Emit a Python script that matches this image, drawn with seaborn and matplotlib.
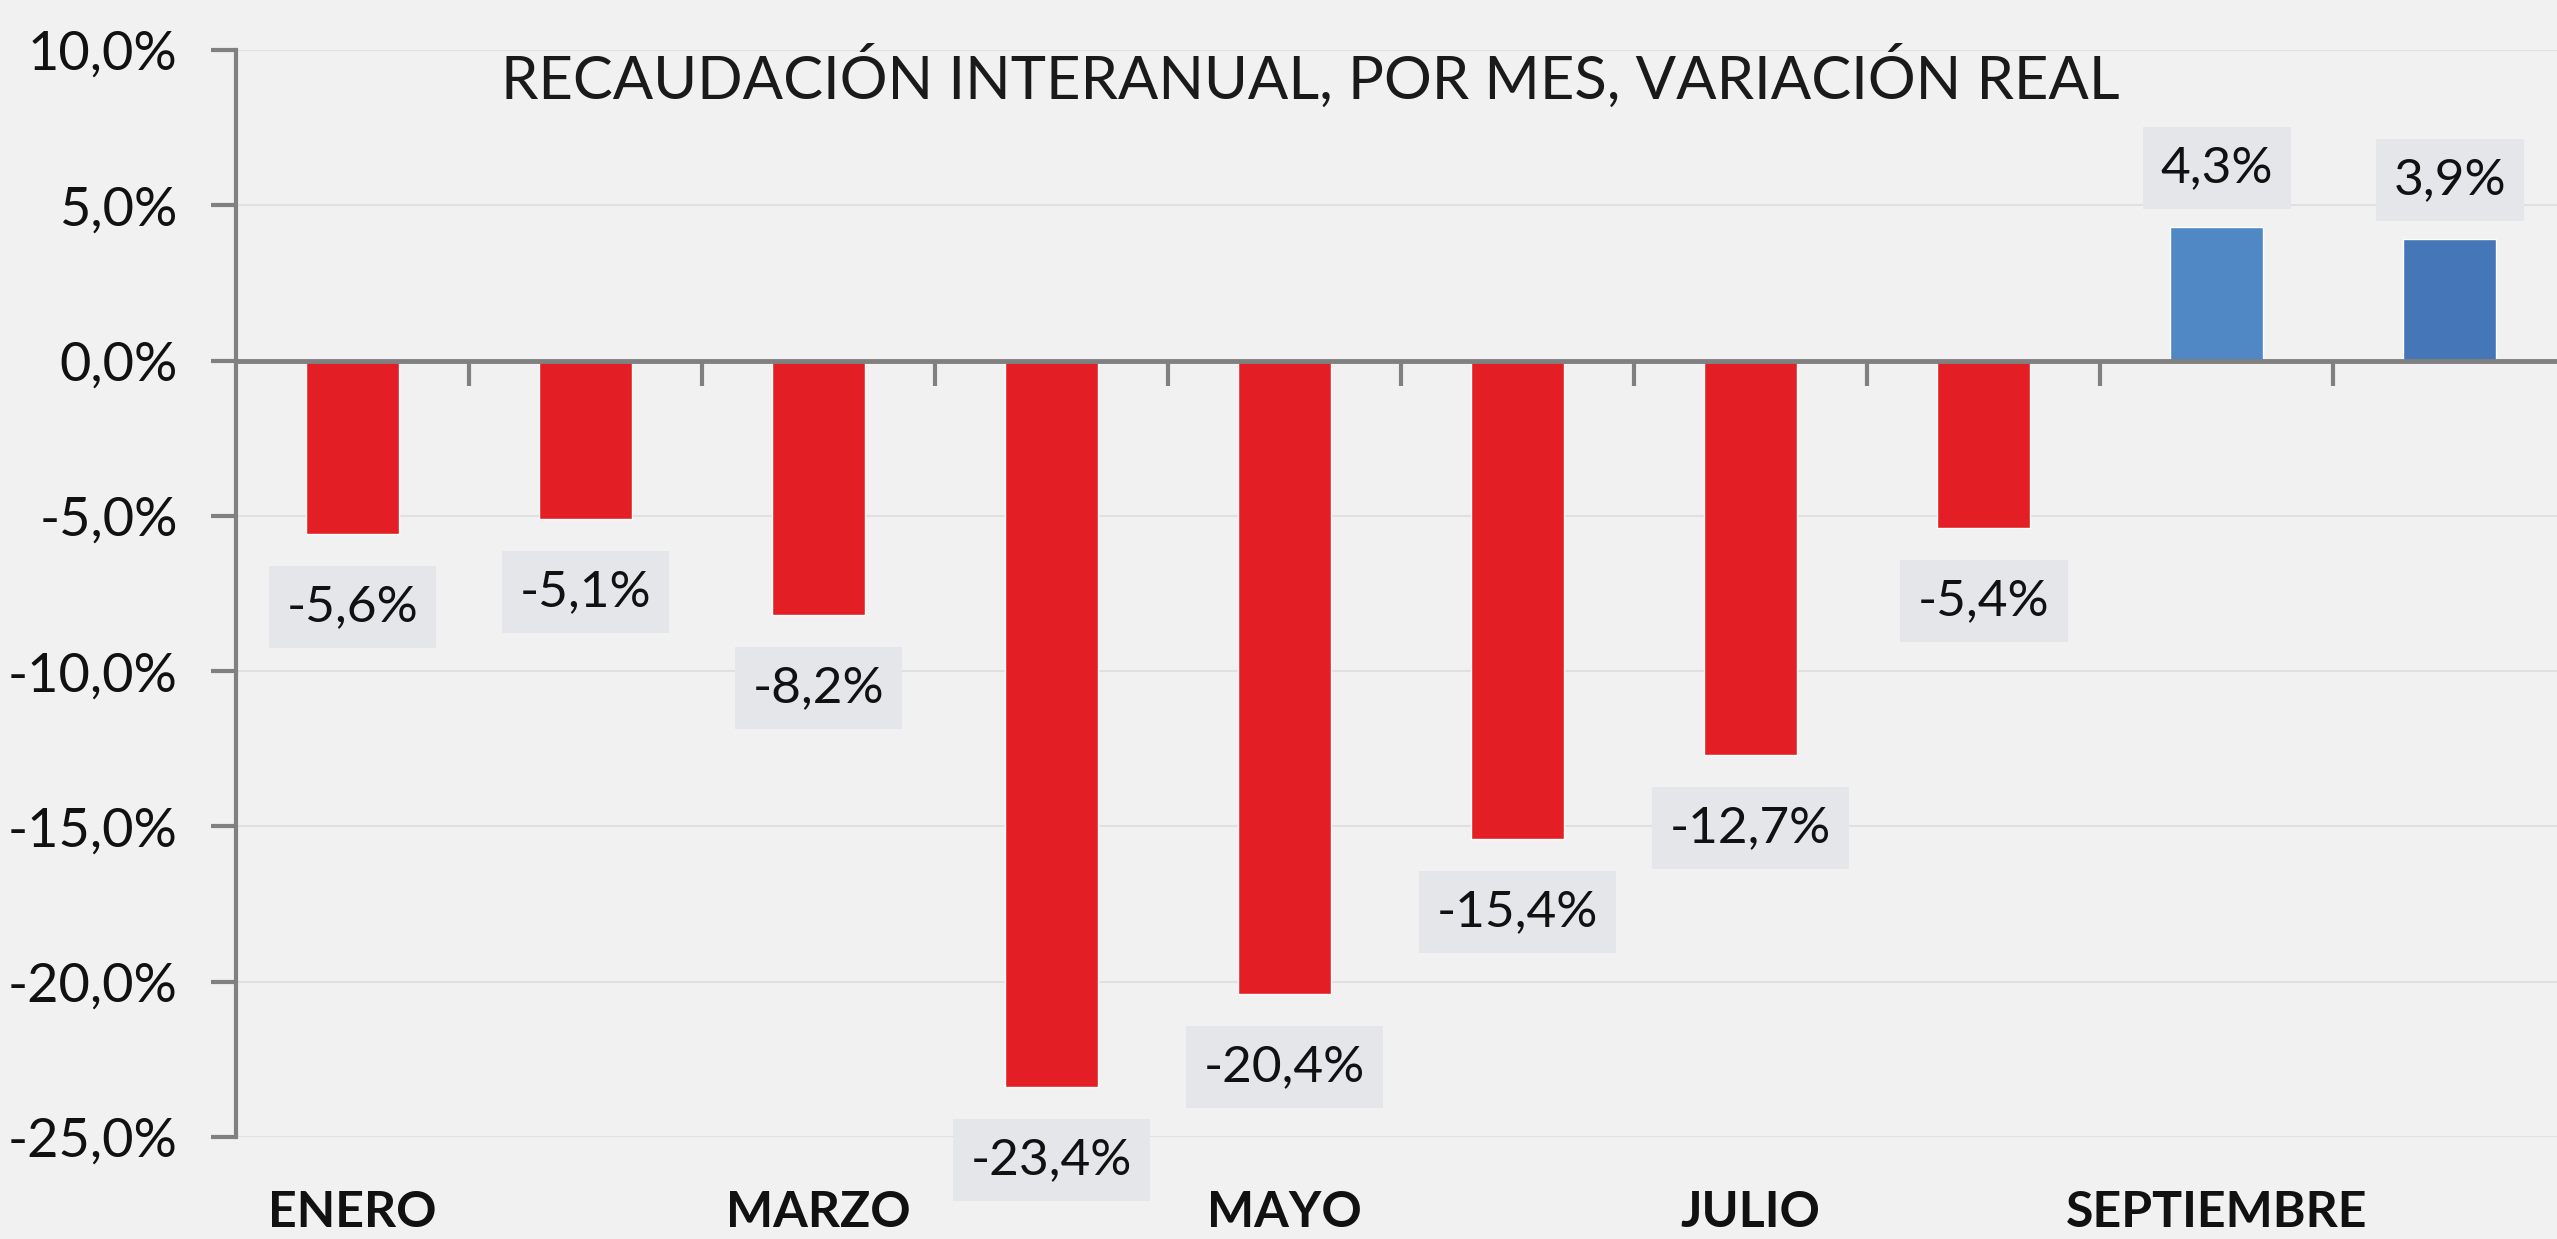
import matplotlib
matplotlib.use("Agg")
import matplotlib.pyplot as plt
import seaborn as sns
from matplotlib.ticker import FuncFormatter

# ---- data ----
months = ["ENERO", "FEBRERO", "MARZO", "ABRIL", "MAYO", "JUNIO",
          "JULIO", "AGOSTO", "SEPTIEMBRE", "OCTUBRE"]
values = [-5.6, -5.1, -8.2, -23.4, -20.4, -15.4, -12.7, -5.4, 4.3, 3.9]
shown_labels = ["ENERO", "", "MARZO", "", "MAYO", "", "JULIO", "", "SEPTIEMBRE", ""]
bar_colors = ["#e31e24"] * 8 + ["#5088c6", "#4576b8"]
title = "RECAUDACIÓN INTERANUAL, POR MES, VARIACIÓN REAL"
yticks = [-25, -20, -15, -10, -5, 0, 5, 10]

sns.set_theme(style="white")
plt.rcParams["font.family"] = ["Lato", "DejaVu Sans"]

W, H = 2557, 1239
fig = plt.figure(figsize=(W / 100, H / 100), dpi=100)
bg = "#f1f1f1"
fig.patch.set_facecolor(bg)
ax = fig.add_axes([236 / W, (H - 1137) / H, 1 - 236 / W, (1137 - 50) / H])
ax.set_facecolor(bg)

sns.barplot(x=months, y=values, hue=months, palette=bar_colors, legend=False,
            width=0.4, saturation=1, ax=ax, zorder=3)

ax.set_ylim(-25, 10)
ax.set_xlim(-0.5, 9.46)

# gridlines
for yv in yticks:
    if yv != 0:
        ax.axhline(yv, color="#e0e0e0", lw=1.5, zorder=1)

# y axis
ax.set_yticks(yticks)
ax.yaxis.set_major_formatter(FuncFormatter(lambda v, p: f"{v:.1f}%".replace(".", ",")))
ax.tick_params(axis="y", direction="out", length=18, width=3, color="#808080",
               labelsize=39, labelcolor="#111111", pad=24, left=True)
for s in ["top", "right", "bottom"]:
    ax.spines[s].set_visible(False)
ax.spines["left"].set_color("#808080")
ax.spines["left"].set_linewidth(3)

# x labels at bottom
ax.set_xticks(range(len(months)))
ax.set_xticklabels(shown_labels, fontsize=36, fontweight="bold", color="#111111")
ax.tick_params(axis="x", length=0, pad=38, bottom=True)
ax.set_xlabel("")
ax.set_ylabel("")

# zero line with boundary ticks
ax.axhline(0, color="#808080", lw=3.5, zorder=4)
sec = ax.secondary_xaxis(25 / 35)
sec.set_xticks([i + 0.5 for i in range(len(months))])
sec.set_xticklabels([""] * len(months))
sec.tick_params(axis="x", direction="in", length=18, width=3, color="#808080")
sec.spines["bottom"].set_visible(False)
sec.spines["top"].set_visible(False)

# data labels
for i, v in enumerate(values):
    txt = f"{v:.1f}%".replace(".", ",")
    y = v - 2.35 if v < 0 else v + 1.9
    ax.text(i, y, txt, ha="center", va="center", fontsize=37, color="#111111",
            zorder=4,
            bbox=dict(boxstyle="square,pad=0.35", fc="#e4e6e9", ec="none"))

fig.text(1310 / W, 1 - 77 / H, title, ha="center", va="center",
         fontsize=43, color="#1a1a1a")

fig.savefig("out.png", dpi=100, facecolor=bg)
